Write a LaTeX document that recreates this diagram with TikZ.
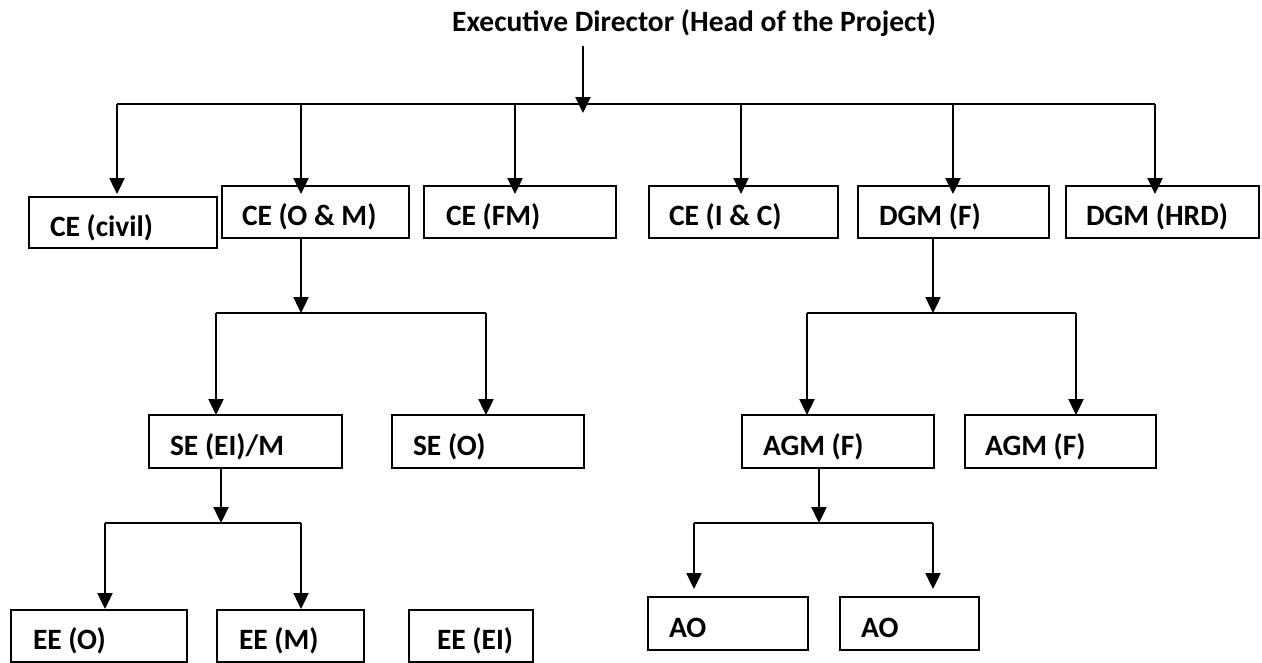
\documentclass[tikz,border=0pt]{standalone}
\usepackage{fontspec}
\setmainfont{Carlito}
\usetikzlibrary{arrows.meta,calc}
\newcommand\obox[7]{\node[orgbox, minimum height=#5pt] (#1) at (#2,#3) {\makebox[#4pt][l]{\hspace*{#6pt}#7}};}
\begin{document}
\begin{tikzpicture}[x=1pt,y=-1pt,
  orgbox/.style={draw, line width=2pt, inner xsep=0pt, inner ysep=0pt, anchor=north west,
    text height=27pt, text depth=0pt,
    font=\bfseries\fontsize{29.5}{32}\selectfont},
  titletext/.style={inner sep=0pt, anchor=base west, font=\bfseries\fontsize{29.5}{32}\selectfont},
  conn/.style={line width=2.4pt},
  arr/.style={conn, -{Triangle[length=16pt,width=15pt]}}]
\useasboundingbox (0,0) rectangle (1262,662);

\node[titletext] (ed) at (452,31) {Executive Director (Head of the Project)};

% level 1
\obox{civil}{28}{196}{188}{51}{21}{CE (civil)}
\obox{om}{221}{185}{187}{52}{20}{CE (O \& M)}
\obox{fm}{423}{185}{192}{52}{22}{CE (FM)}
\obox{ic}{648}{185}{189}{52}{20}{CE (I \& C)}
\obox{dgmf}{857}{185}{191}{52}{21}{DGM (F)}
\obox{hrd}{1065}{185}{193}{52}{20}{DGM (HRD)}
% level 2
\obox{seem}{148}{414}{193}{53}{21}{SE (EI)/M}
\obox{seo}{391}{414}{192}{53}{21}{SE (O)}
\obox{agm1}{741}{414}{192}{53}{21}{AGM (F)}
\obox{agm2}{964}{414}{191}{53}{20}{AGM (F)}
% level 3
\obox{eeo}{10}{609}{176}{52}{22}{EE (O)}
\obox{eem}{216}{609}{147}{52}{22}{EE (M)}
\obox{eeei}{408}{609}{124}{52}{28}{EE (EI)}
\obox{ao1}{647}{596}{160}{53}{21}{AO}
\obox{ao2}{839}{596}{139}{53}{21}{AO}

% title to bus
\coordinate (t0) at (583,113);
\draw[arr] ($(t0 |- ed.south)+(0,10)$) -- (t0);
% top bus
\coordinate (b1) at (117,104); \coordinate (e1) at (117,194);
\coordinate (b2) at (301,104); \coordinate (e2) at (301,194);
\coordinate (b3) at (515,104); \coordinate (e3) at (515,194);
\coordinate (b4) at (741,104); \coordinate (e4) at (741,194);
\coordinate (b5) at (953,104); \coordinate (e5) at (953,194);
\coordinate (b6) at (1155,104); \coordinate (e6) at (1155,194);
\draw[conn] (b1) -- (b6);
\foreach \i in {1,...,6} \draw[arr] (b\i) -- (e\i);

% CE (O&M) branch
\coordinate (om0) at (301,313);
\draw[arr] (om0 |- om.south) -- (om0);
\coordinate (s1) at (216,313); \coordinate (s1e) at (216,415);
\coordinate (s2) at (486,313); \coordinate (s2e) at (486,415);
\draw[conn] (s1) -- (s2);
\draw[arr] (s1) -- (s1e);
\draw[arr] (s2) -- (s2e);

% SE (EI)/M branch
\coordinate (se0) at (221,523);
\draw[arr] (se0 |- seem.south) -- (se0);
\coordinate (r1) at (105,523); \coordinate (r1e) at (105,609);
\coordinate (r2) at (301,523); \coordinate (r2e) at (301,609);
\draw[conn] (r1) -- (r2);
\draw[arr] (r1) -- (r1e);
\draw[arr] (r2) -- (r2e);

% DGM (F) branch
\coordinate (dg0) at (933,313);
\draw[arr] (dg0 |- dgmf.south) -- (dg0);
\coordinate (g1) at (807,313); \coordinate (g1e) at (807,415);
\coordinate (g2) at (1076,313); \coordinate (g2e) at (1076,415);
\draw[conn] (g1) -- (g2);
\draw[arr] (g1) -- (g1e);
\draw[arr] (g2) -- (g2e);

% AGM (F) branch
\coordinate (ag0) at (819,523);
\draw[arr] (ag0 |- agm1.south) -- (ag0);
\coordinate (a1) at (694,523); \coordinate (a1e) at (694,589);
\coordinate (a2) at (933,523); \coordinate (a2e) at (933,589);
\draw[conn] (a1) -- (a2);
\draw[arr] (a1) -- (a1e);
\draw[arr] (a2) -- (a2e);
\end{tikzpicture}
\end{document}
